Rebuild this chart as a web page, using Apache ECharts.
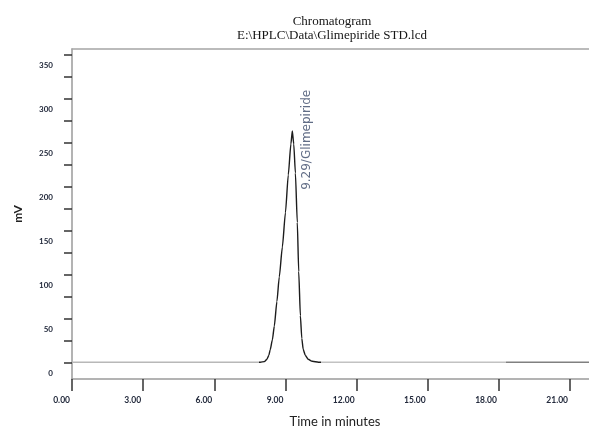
<!DOCTYPE html>
<html>
<head>
<meta charset="utf-8">
<script src="https://cdn.jsdelivr.net/npm/echarts@6/dist/echarts.min.js"></script>
<style>html,body{margin:0;padding:0;background:#fff;}#c{width:589px;height:433px;}</style>
</head>
<body>
<div id="c"></div>
<script>
// ---- data ----
const titleLines = ['Chromatogram', 'E:\\HPLC\\Data\\Glimepiride STD.lcd'];
const timeMin  = [0, 2, 4, 6, 7.94, 8.11, 8.22, 8.30, 8.36, 8.45, 8.53, 8.64, 8.74, 8.87, 9.00, 9.12, 9.23, 9.29, 9.35, 9.42, 9.50, 9.56, 9.63, 9.69, 9.75, 9.84, 9.96, 10.13, 10.39, 13, 16, 19, 21.8];
const signalMv = [0, 0, 0, 0, 0,    0.8,  3.4,  7.8,  14.5, 25.7, 41,   69,   97,   131,  170,  213,  248,  263,  248,  215,  159,  103,  53,   27,   14.5, 7.8,  3.4,  1.1,   0,     0,  0,  0,  0];
const peakTime = 9.29;
const peakHeight = 263;
const peakName = 'Glimepiride';
const xTickValues = [0, 3, 6, 9, 12, 15, 18, 21];
const yTickValues = [0, 25, 50, 75, 100, 125, 150, 175, 200, 225, 250, 275, 300, 325, 350];
const yLabelValues = [0, 50, 100, 150, 200, 250, 300, 350];
const xMin = 0, xMax = 21.8, yMin = -19, yMax = 356;

const points = timeMin.map((t, i) => [t, signalMv[i]]);

const chart = echarts.init(document.getElementById('c'), null, {renderer: 'canvas'});
chart.setOption({
  animation: false,
  backgroundColor: '#fff',
  title: {
    text: titleLines.join('\n'),
    left: 332, top: 15, textAlign: 'center', padding: 0,
    textStyle: {fontFamily: 'Liberation Serif', fontSize: 13, fontWeight: 'normal', color: '#151515', lineHeight: 14}
  },
  grid: {left: 72, right: 0, top: 49, bottom: 49, containLabel: false},
  visualMap: {
    type: 'piecewise', show: false, dimension: 0, seriesIndex: 0,
    pieces: [
      {lt: 7.9, color: '#b8b8b8'},
      {gte: 7.9, lt: 10.5, color: '#1c1c1c'},
      {gte: 10.5, lt: 18.3, color: '#c2c2c2'},
      {gte: 18.3, color: '#808080'}
    ]
  },
  xAxis: [{
    type: 'value', min: xMin, max: xMax, position: 'bottom',
    name: 'Time in minutes', nameLocation: 'middle', nameGap: 36,
    nameTextStyle: {fontFamily: 'Lato', fontSize: 13, color: '#222', padding: [0, 0, 0, 9]},
    axisLine: {show: true, onZero: false, lineStyle: {color: '#9a9a9a', width: 1.5}},
    axisTick: {show: true, length: 12, customValues: xTickValues, lineStyle: {color: '#333', width: 1.5}},
    axisLabel: {
      customValues: xTickValues, align: 'right', margin: 17,
      fontFamily: 'Lato', fontSize: 8.5, fontWeight: 'bold', color: '#232a3c',
      formatter: v => Number(v).toFixed(2), padding: [0, 2, 0, 0]
    },
    splitLine: {show: false}
  }, {
    type: 'value', min: xMin, max: xMax, position: 'top',
    axisLine: {show: true, onZero: false, lineStyle: {color: '#a5a5a5', width: 1.5}},
    axisTick: {show: false}, axisLabel: {show: false}, splitLine: {show: false}
  }],
  yAxis: {
    type: 'value', min: yMin, max: yMax,
    name: 'mV', nameLocation: 'middle', nameGap: 48,
    nameTextStyle: {fontFamily: 'Lato', fontSize: 12, fontWeight: 'bold', color: '#222'},
    axisLine: {show: true, onZero: false, lineStyle: {color: '#9a9a9a', width: 1.5}},
    axisTick: {show: true, length: 8, customValues: yTickValues, lineStyle: {color: '#333', width: 1.5}},
    axisLabel: {
      customValues: yLabelValues, margin: 19, verticalAlign: 'top', padding: [7, 0, 0, 0],
      fontFamily: 'Lato', fontSize: 8, fontWeight: 'bold', color: '#232a3c'
    },
    splitLine: {show: false}
  },
  series: [{
    type: 'line', data: points, showSymbol: false, smooth: 0.2, smoothMonotone: 'x',
    lineStyle: {width: 1.4}, z: 3
  }, {
    type: 'scatter', data: [[peakTime, peakHeight]], symbolSize: 0, z: 4,
    label: {
      show: true, formatter: peakTime.toFixed(2) + '/' + peakName,
      position: 'inside', rotate: 90, align: 'center', verticalAlign: 'middle',
      offset: [-9, 15],
      fontFamily: 'DejaVu Sans', fontSize: 12, color: '#3a4868'
    }
  }]
});
</script>
</body>
</html>
